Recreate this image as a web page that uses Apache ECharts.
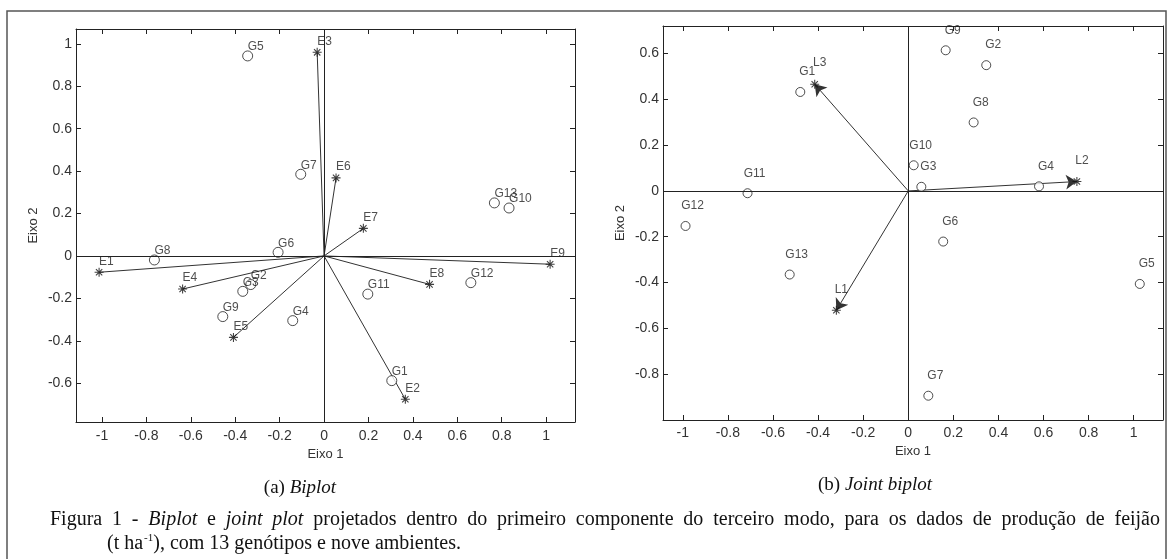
<!DOCTYPE html>
<html>
<head>
<meta charset="utf-8">
<script src="https://cdn.jsdelivr.net/npm/echarts@6/dist/echarts.min.js"></script>
<style>html,body{margin:0;padding:0;background:#fff}#c{width:1169px;height:559px}</style>
</head>
<body>
<div id="c"></div>
<script>
// ---- Data: (a) Biplot ----
const biplotGNames = ['G1','G2','G3','G4','G5','G6','G7','G8','G9','G10','G11','G12','G13'];
const biplotGX = [0.305,-0.33,-0.366,-0.141,-0.344,-0.207,-0.105,-0.764,-0.456,0.833,0.197,0.661,0.767];
const biplotGY = [-0.588,-0.135,-0.167,-0.305,0.943,0.017,0.385,-0.019,-0.286,0.226,-0.18,-0.126,0.25];
const biplotENames = ['E1','E2','E3','E4','E5','E6','E7','E8','E9'];
const biplotEX = [-1.013,0.366,-0.031,-0.637,-0.408,0.054,0.177,0.475,1.018];
const biplotEY = [-0.077,-0.676,0.96,-0.156,-0.384,0.368,0.13,-0.134,-0.039];
// ---- Data: (b) Joint biplot ----
const jointGNames = ['G1','G2','G3','G4','G5','G6','G7','G8','G9','G10','G11','G12','G13'];
const jointGX = [-0.479,0.346,0.058,0.58,1.027,0.155,0.089,0.29,0.166,0.024,-0.713,-0.988,-0.526];
const jointGY = [0.432,0.549,0.018,0.02,-0.406,-0.221,-0.894,0.299,0.614,0.112,-0.01,-0.153,-0.365];
const jointLNames = ['L1','L2','L3'];
const jointLX = [-0.319,0.748,-0.415];
const jointLY = [-0.521,0.041,0.466];
// ---- Ticks ----
const xTicks = [-1,-0.8,-0.6,-0.4,-0.2,0,0.2,0.4,0.6,0.8,1];
const yTicksA = [-0.6,-0.4,-0.2,0,0.2,0.4,0.6,0.8,1];
const yTicksB = [-0.8,-0.6,-0.4,-0.2,0,0.2,0.4,0.6];
// ---- Text ----
const subA = ['(a) ', 'Biplot'];
const subB = ['(b) ', 'Joint biplot'];
const captionLine1 = [['Figura',0],['1',0],['-',0],['Biplot',1],['e',0],['joint',1],['plot',1],['projetados',0],['dentro',0],['do',0],['primeiro',0],['componente',0],['do',0],['terceiro',0],['modo,',0],['para',0],['os',0],['dados',0],['de',0],['produção',0],['de',0],['feijão',0]];
const captionLine2 = ['(t ha', '-1', '), com 13 genótipos e nove ambientes.'];

const starPath = 'path://M8.8,0H11.2V20H8.8Z M0,8.8H20V11.2H0Z M2.1,3.8L3.8,2.1L17.9,16.2L16.2,17.9Z M16.2,2.1L17.9,3.8L3.8,17.9L2.1,16.2Z';
const AX = '#222';
const SANS = 'Liberation Sans';
const SERIF = 'Liberation Serif';

function axis(gridIndex, position, min, max, ticks, labels, margin, name, nameGap, vertical) {
  return {
    type: 'value', gridIndex, position, min, max,
    axisLine: {show: true, onZero: false, lineStyle: {color: AX, width: 1}},
    axisTick: {show: true, inside: true, length: 5, customValues: ticks, lineStyle: {color: AX, width: 1}},
    axisLabel: {show: labels, customValues: ticks, margin: margin, color: '#333', fontSize: 14, fontFamily: SANS},
    splitLine: {show: false},
    name: name || '', nameLocation: 'middle', nameGap: nameGap || 0, nameRotate: vertical ? 90 : 0,
    nameTextStyle: {color: '#333', fontSize: 13, fontFamily: SANS}
  };
}

const zeroLines = {
  silent: true, symbol: ['none','none'], label: {show: false}, animation: false,
  lineStyle: {color: AX, type: 'solid', width: 1}, emphasis: {disabled: true},
  data: [{yAxis: 0}, {xAxis: 0}]
};

// caption measurement
const mctx = document.createElement('canvas').getContext('2d');
function tw(text, italic, size) {
  mctx.font = (italic ? 'italic ' : '') + size + 'px "' + SERIF + '"';
  return mctx.measureText(text).width;
}
function txt(x, y, text, size, italic) {
  return {type: 'text', x: x, y: y, silent: true,
    style: {text: text, fontSize: size, fontFamily: SERIF, fontStyle: italic ? 'italic' : 'normal',
      fill: '#111', align: 'left', verticalAlign: 'middle'}};
}
const graphics = [];
graphics.push({type: 'rect', shape: {x: 7, y: 11, width: 1159, height: 570}, silent: true,
  style: {fill: 'none', stroke: '#555', lineWidth: 1.5}});
function subtitle(parts, cx, cy, size) {
  const w0 = tw(parts[0], false, size), w1 = tw(parts[1], true, size);
  const x0 = cx - (w0 + w1) / 2;
  graphics.push(txt(x0, cy, parts[0], size, false));
  graphics.push(txt(x0 + w0, cy, parts[1], size, true));
}
subtitle(subA, 300, 488, 19);
subtitle(subB, 875, 485, 19);
(function () {
  const size = 20, left = 50, right = 1160, y = 520;
  let total = 0;
  captionLine1.forEach(w => total += tw(w[0], w[1], size));
  const gap = (right - left - total) / (captionLine1.length - 1);
  let x = left;
  captionLine1.forEach(w => {
    graphics.push(txt(x, y, w[0], size, w[1]));
    x += tw(w[0], w[1], size) + gap;
  });
  const y2 = 544;
  let x2 = 107;
  graphics.push(txt(x2, y2, captionLine2[0], size, false));
  x2 += tw(captionLine2[0], false, size) + 1;
  graphics.push(txt(x2, y2 - 6, captionLine2[1], 11, false));
  x2 += tw(captionLine2[1], false, 11);
  graphics.push(txt(x2, y2, captionLine2[2], size, false));
})();

const labelA = (dy) => ({show: true, formatter: '{b}', position: 'inside', align: 'left', verticalAlign: 'middle',
  offset: [0, dy], fontSize: 12, color: '#222', fontFamily: SANS});
const labelB = (dx, dy) => ({show: true, formatter: '{b}', position: 'inside', align: 'center', verticalAlign: 'middle',
  offset: [dx, dy], fontSize: 12, color: '#222', fontFamily: SANS});
const ring = {color: '#fff', borderColor: '#222', borderWidth: 1};

const option = {
  animation: false,
  backgroundColor: '#fff',
  grid: [
    {left: 76, top: 29, width: 499, height: 393},
    {left: 663, top: 26, width: 500, height: 394}
  ],
  xAxis: [
    axis(0, 'bottom', -1.117, 1.13, xTicks, true, 7, 'Eixo 1', 25, false),
    axis(0, 'top', -1.117, 1.13, xTicks, false, 7),
    axis(1, 'bottom', -1.088, 1.13, xTicks, true, 6, 'Eixo 1', 25, false),
    axis(1, 'top', -1.088, 1.13, xTicks, false, 6)
  ],
  yAxis: [
    axis(0, 'left', -0.783, 1.07, yTicksA, true, 4, 'Eixo 2', 36, true),
    axis(0, 'right', -0.783, 1.07, yTicksA, false, 4),
    axis(1, 'left', -1.0, 0.72, yTicksB, true, 4, 'Eixo 2', 36, true),
    axis(1, 'right', -1.0, 0.72, yTicksB, false, 4)
  ],
  series: [
    // (a) vectors
    {type: 'lines', coordinateSystem: 'cartesian2d', xAxisIndex: 0, yAxisIndex: 0, silent: true, z: 1,
      symbol: 'none', lineStyle: {color: '#333', width: 1, opacity: 1},
      data: biplotENames.map((n, i) => ({coords: [[0, 0], [biplotEX[i], biplotEY[i]]]}))},
    {type: 'scatter', xAxisIndex: 0, yAxisIndex: 0, symbol: 'circle', symbolSize: 10, z: 3,
      itemStyle: ring, label: labelA(-9), markLine: zeroLines,
      data: biplotGNames.map((n, i) => ({name: n, value: [biplotGX[i], biplotGY[i]]}))},
    {type: 'scatter', xAxisIndex: 0, yAxisIndex: 0, symbol: starPath, symbolSize: 9, z: 4,
      itemStyle: {color: '#111'}, label: labelA(-11),
      data: biplotENames.map((n, i) => ({name: n, value: [biplotEX[i], biplotEY[i]]}))},
    // (b) vectors
    {type: 'lines', coordinateSystem: 'cartesian2d', xAxisIndex: 2, yAxisIndex: 2, silent: true, z: 1,
      symbol: ['none', 'arrow'], symbolSize: [1, 11], lineStyle: {color: '#333', width: 1, opacity: 1},
      itemStyle: {color: '#111'},
      data: jointLNames.map((n, i) => ({coords: [[0, 0], [jointLX[i], jointLY[i]]]}))},
    {type: 'scatter', xAxisIndex: 2, yAxisIndex: 2, symbol: 'circle', symbolSize: 9, z: 3,
      itemStyle: ring, label: labelB(7, -20), markLine: zeroLines,
      data: jointGNames.map((n, i) => ({name: n, value: [jointGX[i], jointGY[i]]}))},
    {type: 'scatter', xAxisIndex: 2, yAxisIndex: 2, symbol: starPath, symbolSize: 9, z: 4,
      itemStyle: {color: '#111'}, label: labelB(5, -21),
      data: jointLNames.map((n, i) => ({name: n, value: [jointLX[i], jointLY[i]]}))}
  ],
  graphic: graphics
};
const chart = echarts.init(document.getElementById('c'), null, {renderer: 'canvas'});
chart.setOption(option);
</script>
</body>
</html>
